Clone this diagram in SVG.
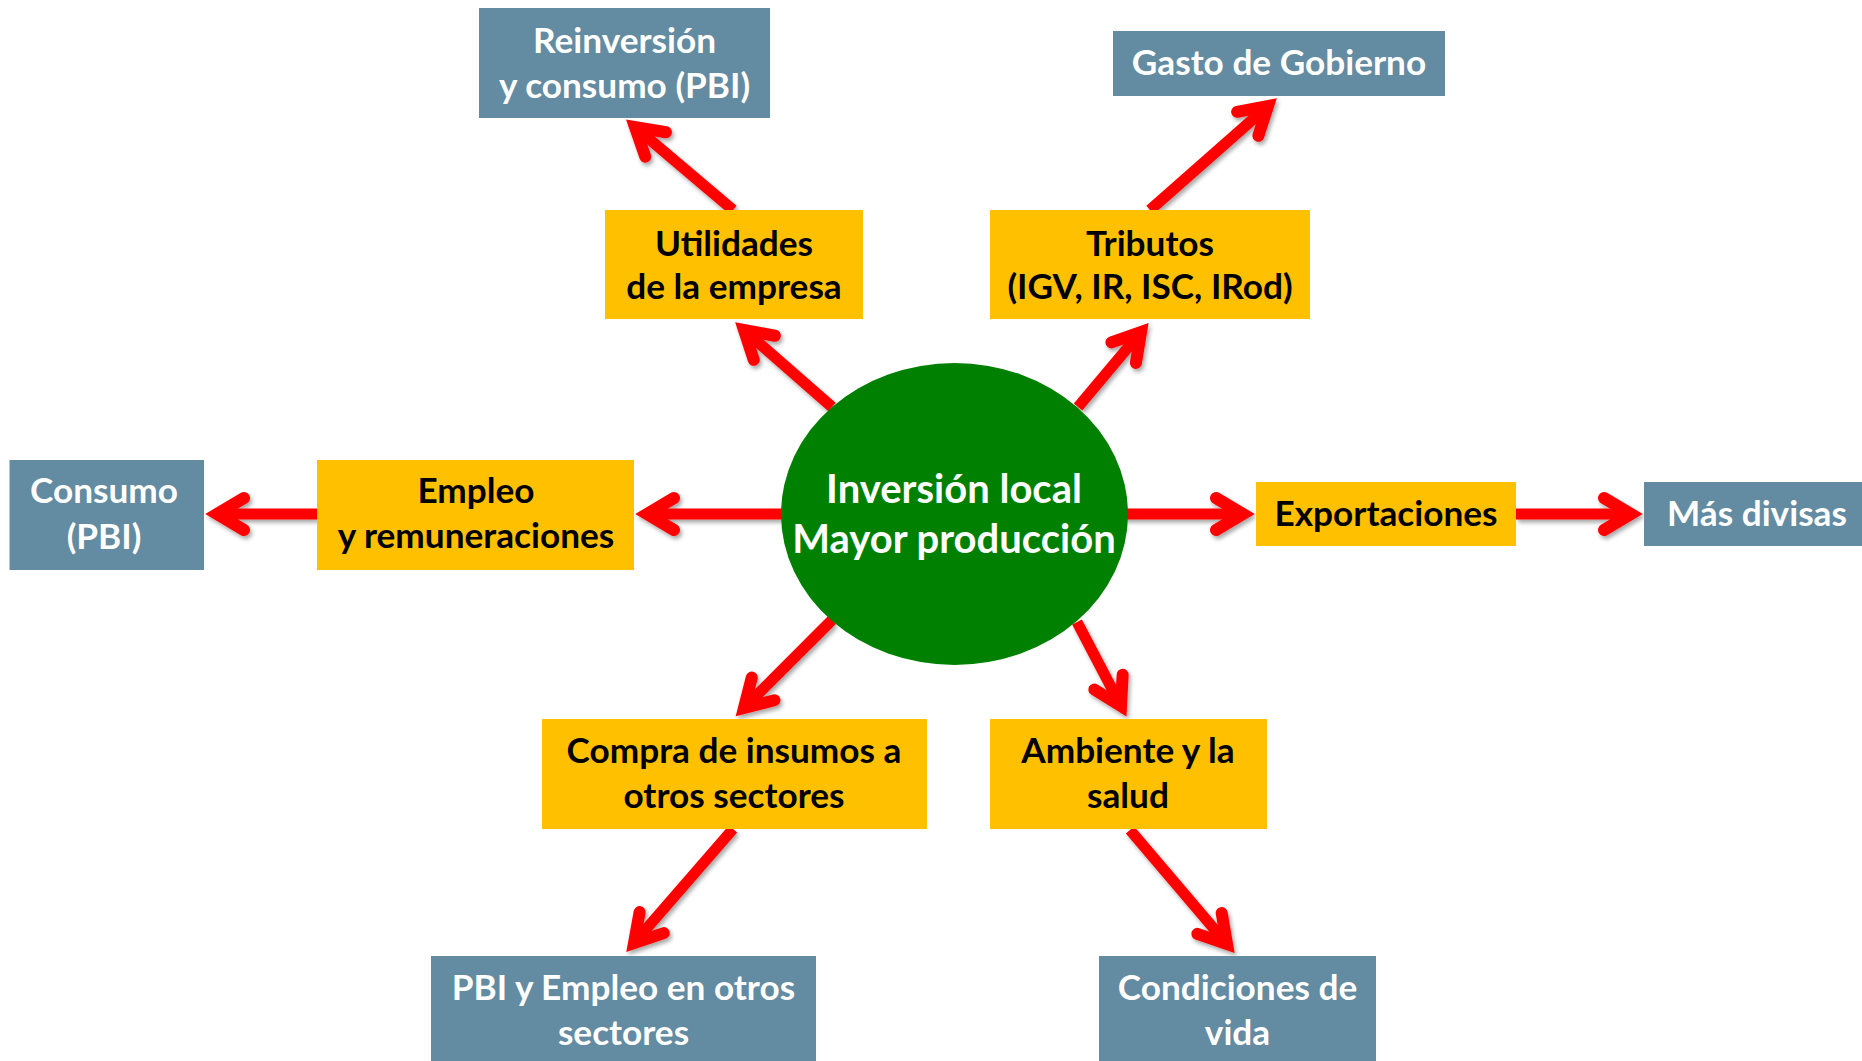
<svg xmlns="http://www.w3.org/2000/svg" width="1862" height="1061" viewBox="0 0 1862 1061">
<style>
.blue{fill:#638BA1}
.yel{fill:#FFC000}
.wt{fill:#FFFFFF;font-family:Lato,"Open Sans","Liberation Sans",sans-serif;font-weight:bold;font-size:35.2px;text-anchor:middle}
.bt{fill:#000000;font-family:Lato,"Open Sans","Liberation Sans",sans-serif;font-weight:bold;font-size:35.2px;text-anchor:middle}
.ct{fill:#FFFFFF;font-family:Lato,"Open Sans","Liberation Sans",sans-serif;font-weight:bold;font-size:40px;text-anchor:middle}
.arr{stroke:#FF0000;stroke-width:11;fill:none;marker-end:url(#ah)}
</style>
<defs>
<filter id="sh" x="-20%" y="-20%" width="140%" height="140%">
<feDropShadow dx="2" dy="3" stdDeviation="2" flood-color="#000" flood-opacity="0.35"/>
</filter>
<marker id="ah" markerUnits="userSpaceOnUse" orient="auto" refX="0" refY="0" markerWidth="80" markerHeight="80" viewBox="-40 -40 80 80" overflow="visible">
<path d="M -27 -16 L 0 0 L -27 16" fill="none" stroke="#FF0000" stroke-width="12" stroke-linecap="round" stroke-linejoin="miter" stroke-miterlimit="10"/>
</marker>
</defs>
<rect width="1862" height="1061" fill="#FFFFFF"/>
<g id="connectors" filter="url(#sh)">
<line class="arr" x1="832" y1="407" x2="744" y2="330"/>
<line class="arr" x1="733" y1="210" x2="635" y2="127"/>
<line class="arr" x1="1078" y1="407" x2="1141" y2="332"/>
<line class="arr" x1="1150" y1="210" x2="1268" y2="106"/>
<line class="arr" x1="790" y1="514" x2="647" y2="514"/>
<line class="arr" x1="317" y1="514" x2="217" y2="514"/>
<line class="arr" x1="1120" y1="514" x2="1243" y2="514"/>
<line class="arr" x1="1516" y1="514" x2="1631" y2="514"/>
<line class="arr" x1="832" y1="620" x2="744" y2="708"/>
<line class="arr" x1="733" y1="829" x2="634" y2="943"/>
<line class="arr" x1="1077" y1="622" x2="1121" y2="706"/>
<line class="arr" x1="1130" y1="830" x2="1227" y2="944"/>
</g>
<g id="center">
<ellipse cx="954.5" cy="514" rx="173.5" ry="151" fill="#008000"/>
<text class="ct" x="954" y="503">Inversión local</text>
<text class="ct" x="954" y="553">Mayor producción</text>
</g>
<g id="reinversion">
<rect class="blue" x="479" y="8" width="291" height="110"/>
<text class="wt" x="624.5" y="53">Reinversión</text>
<text class="wt" x="624.5" y="98">y consumo (PBI)</text>
</g>
<g id="utilidades">
<rect class="yel" x="605" y="210" width="258" height="109"/>
<text class="bt" x="734" y="256">Utilidades</text>
<text class="bt" x="734" y="299">de la empresa</text>
</g>
<g id="tributos">
<rect class="yel" x="990" y="210" width="320" height="109"/>
<text class="bt" x="1150" y="256">Tributos</text>
<text class="bt" x="1150" y="299">(IGV, IR, ISC, IRod)</text>
</g>
<g id="gasto">
<rect class="blue" x="1113" y="31" width="332" height="65"/>
<text class="wt" x="1279" y="75">Gasto de Gobierno</text>
</g>
<g id="consumo">
<rect class="blue" x="9.5" y="460" width="194.5" height="110"/>
<text class="wt" x="104" y="503">Consumo</text>
<text class="wt" x="104" y="549">(PBI)</text>
</g>
<g id="empleo">
<rect class="yel" x="317" y="460" width="317" height="110"/>
<text class="bt" x="476" y="503">Empleo</text>
<text class="bt" x="476" y="548">y remuneraciones</text>
</g>
<g id="exportaciones">
<rect class="yel" x="1256" y="482" width="260" height="64"/>
<text class="bt" x="1386" y="526">Exportaciones</text>
</g>
<g id="divisas">
<rect class="blue" x="1644" y="482" width="218" height="64"/>
<text class="wt" x="1757" y="526">Más divisas</text>
</g>
<g id="compra">
<rect class="yel" x="542" y="719" width="385" height="110"/>
<text class="bt" x="734" y="763">Compra de insumos a</text>
<text class="bt" x="734" y="808">otros sectores</text>
</g>
<g id="pbi">
<rect class="blue" x="431" y="956" width="385" height="105"/>
<text class="wt" x="623.5" y="1000">PBI y Empleo en otros</text>
<text class="wt" x="623.5" y="1045">sectores</text>
</g>
<g id="ambiente">
<rect class="yel" x="990" y="719" width="277" height="110"/>
<text class="bt" x="1128" y="763">Ambiente y la</text>
<text class="bt" x="1128" y="808">salud</text>
</g>
<g id="condiciones">
<rect class="blue" x="1099" y="956" width="277" height="105"/>
<text class="wt" x="1237.5" y="1000">Condiciones de</text>
<text class="wt" x="1237.5" y="1045">vida</text>
</g>
</svg>
